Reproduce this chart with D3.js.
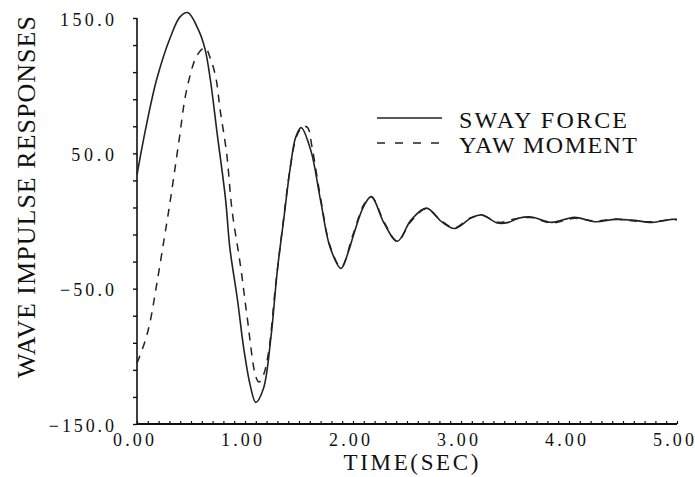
<!DOCTYPE html>
<html>
<head>
<meta charset="utf-8">
<script src="https://cdn.jsdelivr.net/npm/d3@7"></script>
<style>
  body { margin: 0; background: #fff; }
  svg text { font-family: 'Liberation Serif', 'DejaVu Serif', serif; fill: #111; }
</style>
</head>
<body>
<div id="canvas"></div>
<script>
// time (sec) and response values
var swayT = [0.00, 0.06, 0.18, 0.31, 0.40, 0.47, 0.57, 0.63, 0.68, 0.74, 0.82, 0.86, 0.93, 0.99, 1.05, 1.10, 1.17, 1.24, 1.30, 1.36, 1.42, 1.47, 1.52, 1.61, 1.70, 1.79, 1.89, 1.96, 2.01, 2.10, 2.17, 2.29, 2.41, 2.54, 2.68, 2.82, 2.94, 3.09, 3.19, 3.34, 3.44, 3.53, 3.65, 3.84, 4.05, 4.24, 4.43, 4.58, 4.77, 4.95, 5.00];
var swayV = [34, 60, 104, 136, 151, 154, 141, 127, 104, 66, 16, -20, -58, -95, -122, -134, -124, -86, -36, 2, 40, 62, 69, 52, 15, -20, -35, -22, -9, 11, 18, -2, -15, 1, 9.5, -0.5, -5.5, 2, 4.5, -1.5, -1, 2, 3, -1, 2.7, -0.5, 1.2, 0.7, -1, 1.2, 1.2];

var yawT = [0.00, 0.07, 0.12, 0.18, 0.25, 0.31, 0.39, 0.46, 0.56, 0.63, 0.68, 0.73, 0.77, 0.83, 0.88, 0.96, 1.02, 1.10, 1.13, 1.17, 1.22, 1.28, 1.35, 1.42, 1.48, 1.54, 1.58, 1.62, 1.70, 1.79, 1.89, 2.00, 2.10, 2.17, 2.29, 2.41, 2.54, 2.68, 2.82, 2.94, 3.09, 3.20, 3.35, 3.50, 3.65, 3.84, 4.05, 4.24, 4.43, 4.60, 4.77, 4.95, 5.00];
var yawV = [-105, -90, -75, -48, -14, 16, 60, 97, 123, 128, 120, 106, 82, 50, 8, -34, -71, -115, -119, -114, -96, -50, -3, 40, 63, 70, 69, 55, 17, -19, -34, -10, 12, 18, -1, -15, 0, 9, 0, -5, 2.5, 4, -1, 1.5, 2.5, -1.5, 2, 0, 1.5, 0, -0.5, 1, 1];

var yLabelTicks = [150, 50, -50, -150];
var xLabelTicks = [0, 1, 2, 3, 4, 5];
var seriesNames = ['SWAY FORCE', 'YAW MOMENT'];

var W = 695, H = 477;
var m = {t: 18, r: 18, b: 53, l: 137};
var charW = 11.2; // width of one character of the old plotter font

var svg = d3.select('#canvas').append('svg')
  .attr('width', W)
  .attr('height', H);

var x = d3.scaleLinear().domain([0, 5]).range([m.l, W - m.r]);
var y = d3.scaleLinear().domain([-150, 150]).range([H - m.b, m.t]);

// y axis: minor ticks every 20, labels every 100
var yAxis = d3.axisLeft(y)
  .tickValues(d3.range(150, -151, -20))
  .tickSize(4)
  .tickFormat(function(d){ return yLabelTicks.indexOf(d) >= 0 ? d3.format('.1f')(d).replace('-', '\u2212') : ''; });

var gy = svg.append('g')
  .attr('transform', 'translate(' + m.l + ',0)')
  .call(yAxis);
gy.select('.domain').attr('stroke', '#111').attr('stroke-width', 1.6).attr('d', 'M0,' + y(150) + 'V' + y(-150));
gy.selectAll('.tick line').attr('stroke', '#111').attr('stroke-width', 1.4);
gy.selectAll('.tick text')
  .attr('x', -23)
  .attr('dy', '0.4em')
  .style('font-size', '18px')
  .attr('lengthAdjust', 'spacing')
  .attr('textLength', function(d){
    var s = this.textContent;
    return s ? s.length * charW - 2 : null;
  });

// x axis: minor ticks every 0.1, pointing up
var xAxis = d3.axisBottom(x)
  .tickValues(d3.range(0, 51).map(function(i){ return i / 10; }))
  .tickSize(-3)
  .tickFormat(function(d){
    var r = Math.round(d);
    return (Math.abs(d - r) < 1e-9 && xLabelTicks.indexOf(r) >= 0) ? d3.format('.2f')(d) : '';
  });

var gx = svg.append('g')
  .attr('transform', 'translate(0,' + y(-150) + ')')
  .call(xAxis);
gx.select('.domain').attr('stroke', '#111').attr('stroke-width', 2).attr('d', 'M' + x(0) + ',0H' + x(5));
gx.selectAll('.tick line').attr('stroke', '#111').attr('stroke-width', 1.2);
gx.selectAll('.tick text')
  .attr('x', -4)
  .attr('y', 9)
  .attr('dy', '0.71em')
  .style('font-size', '18px')
  .attr('lengthAdjust', 'spacing')
  .attr('textLength', function(d){
    var s = this.textContent;
    return s ? s.length * charW - 4 : null;
  });

// axis titles
svg.append('text')
  .attr('transform', 'translate(35,' + 197 + ') rotate(-90)')
  .attr('text-anchor', 'middle')
  .style('font-size', '26px')
  .attr('lengthAdjust', 'spacing')
  .attr('textLength', 362)
  .text('WAVE IMPULSE RESPONSES');

svg.append('text')
  .attr('x', 411)
  .attr('y', 470)
  .attr('text-anchor', 'middle')
  .style('font-size', '23px')
  .attr('lengthAdjust', 'spacing')
  .attr('textLength', 135)
  .text('TIME(SEC)');

// curves
var line = d3.line()
  .x(function(d){ return x(d.t); })
  .y(function(d){ return y(d.v); })
  .curve(d3.curveCatmullRom.alpha(0.5));

var sway = swayT.map(function(t, i){ return {t: t, v: swayV[i]}; });
var yaw = yawT.map(function(t, i){ return {t: t, v: yawV[i]}; });

svg.append('path')
  .datum(yaw)
  .attr('d', line)
  .attr('fill', 'none')
  .attr('stroke', '#222')
  .attr('stroke-width', 1.5)
  .attr('stroke-dasharray', '8,7');

svg.append('path')
  .datum(sway)
  .attr('d', line)
  .attr('fill', 'none')
  .attr('stroke', '#222')
  .attr('stroke-width', 1.6);

// legend
var legend = svg.append('g');
seriesNames.forEach(function(name, i){
  var ly = 118 + i * 25;
  legend.append('line')
    .attr('x1', 377).attr('x2', 442)
    .attr('y1', ly).attr('y2', ly)
    .attr('stroke', '#222')
    .attr('stroke-width', 1.6)
    .attr('stroke-dasharray', i === 0 ? null : '8,10');
  legend.append('text')
    .attr('x', 459)
    .attr('y', ly + 10)
    .style('font-size', '24px')
    .attr('lengthAdjust', 'spacing')
    .attr('textLength', i === 0 ? 168 : 178)
    .text(name);
});
</script>
</body>
</html>
